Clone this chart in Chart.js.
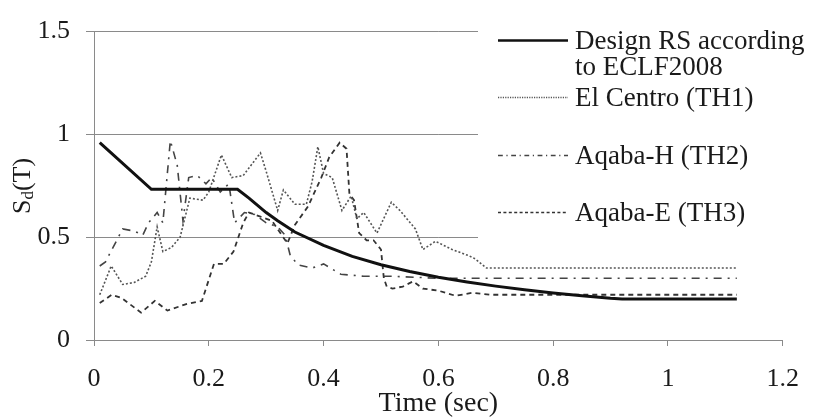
<!DOCTYPE html>
<html>
<head>
<meta charset="utf-8">
<script src="https://cdn.jsdelivr.net/npm/chart.js@4.4.1/dist/chart.umd.min.js"></script>
<style>
  html, body { margin: 0; padding: 0; background: #fff; }
  #wrap { width: 817px; height: 418px; position: relative; }
</style>
</head>
<body>
<div id="wrap"><canvas id="chart" width="817" height="418"></canvas></div>
<script>
// period T (sec) and Sd values
const designT  = [0.01, 0.10, 0.25, 0.27, 0.30, 0.32, 0.35, 0.40, 0.45, 0.50, 0.55, 0.60, 0.65, 0.70, 0.75, 0.80, 0.85, 0.90, 0.92, 1.12];
const designSd = [0.96, 0.733, 0.733, 0.69, 0.62, 0.58, 0.525, 0.46, 0.407, 0.366, 0.333, 0.305, 0.282, 0.262, 0.244, 0.229, 0.215, 0.203, 0.20, 0.20];

const th1T  = [0.01, 0.03, 0.05, 0.07, 0.09, 0.10, 0.11, 0.12, 0.135, 0.15, 0.167, 0.19, 0.20, 0.222, 0.24, 0.26, 0.29, 0.30, 0.32, 0.33, 0.35, 0.37, 0.38, 0.39, 0.40, 0.415, 0.432, 0.448, 0.458, 0.47, 0.493, 0.518, 0.533, 0.56, 0.573, 0.595, 0.624, 0.653, 0.664, 0.684, 1.12];
const th1Sd = [0.22, 0.36, 0.27, 0.28, 0.31, 0.38, 0.55, 0.43, 0.45, 0.50, 0.69, 0.68, 0.72, 0.90, 0.79, 0.80, 0.91, 0.82, 0.63, 0.73, 0.66, 0.66, 0.77, 0.94, 0.81, 0.79, 0.63, 0.70, 0.59, 0.62, 0.52, 0.67, 0.63, 0.54, 0.44, 0.48, 0.44, 0.41, 0.395, 0.35, 0.35];

const th2T  = [0.01, 0.02, 0.05, 0.07, 0.085, 0.095, 0.11, 0.12, 0.133, 0.145, 0.155, 0.165, 0.18, 0.195, 0.205, 0.22, 0.235, 0.245, 0.262, 0.28, 0.30, 0.32, 0.333, 0.342, 0.356, 0.38, 0.40, 0.43, 0.47, 0.52, 0.60, 0.70, 1.12];
const th2Sd = [0.36, 0.38, 0.54, 0.53, 0.51, 0.57, 0.62, 0.57, 0.97, 0.85, 0.58, 0.79, 0.80, 0.76, 0.79, 0.72, 0.76, 0.57, 0.62, 0.61, 0.57, 0.55, 0.51, 0.41, 0.365, 0.35, 0.37, 0.32, 0.31, 0.31, 0.30, 0.30, 0.30];

const th3T  = [0.01, 0.031, 0.048, 0.082, 0.106, 0.128, 0.162, 0.188, 0.209, 0.226, 0.243, 0.26, 0.27, 0.29, 0.31, 0.337, 0.35, 0.373, 0.396, 0.41, 0.428, 0.44, 0.445, 0.453, 0.462, 0.475, 0.487, 0.50, 0.505, 0.51, 0.52, 0.538, 0.556, 0.573, 0.60, 0.63, 0.66, 0.69, 1.12];
const th3Sd = [0.18, 0.22, 0.205, 0.133, 0.19, 0.143, 0.176, 0.19, 0.37, 0.37, 0.43, 0.57, 0.62, 0.60, 0.58, 0.47, 0.56, 0.65, 0.79, 0.89, 0.96, 0.93, 0.71, 0.68, 0.52, 0.485, 0.485, 0.44, 0.30, 0.26, 0.25, 0.26, 0.285, 0.25, 0.24, 0.215, 0.23, 0.22, 0.22];

const seriesNames = ['Design RS according|to ECLF2008', 'El Centro (TH1)', 'Aqaba-H (TH2)', 'Aqaba-E (TH3)'];

const serif = '"Liberation Serif", "Times New Roman", serif';
const textColor = '#1a1a1a';
const gridColor = '#8a8a8a';

function toPoints(ts, vs) {
    return ts.map((t, i) => ({ x: t, y: vs[i] }));
}

// white box with the legend, drawn over the right part of the plot
const boxLegend = {
    id: 'boxLegend',
    afterDraw(chart) {
        const ctx = chart.ctx;
        ctx.save();
        ctx.fillStyle = '#fff';
        ctx.fillRect(478, 0, 339, 258);
        const rows = [40, 97, 155, 212];
        chart.data.datasets.forEach((ds, i) => {
            const y = rows[i];
            ctx.beginPath();
            ctx.strokeStyle = ds.borderColor;
            ctx.lineWidth = i === 0 ? 2.6 : 1.3;
            ctx.setLineDash(i === 0 ? [] : (ds.borderDash || []).map(d => d * 0.6));
            ctx.moveTo(498, y + 0.5);
            ctx.lineTo(568, y + 0.5);
            ctx.stroke();
            ctx.setLineDash([]);
            ctx.fillStyle = textColor;
            ctx.font = '27px ' + serif;
            ctx.textBaseline = 'middle';
            ctx.textAlign = 'left';
            const parts = seriesNames[i].split('|');
            parts.forEach((p, k) => ctx.fillText(p, 575, y + 2 + k * 26));
        });
        ctx.restore();
    }
};

// rotated y title with subscript d
const yTitle = {
    id: 'yTitle',
    afterDraw(chart) {
        const ctx = chart.ctx;
        ctx.save();
        ctx.translate(23, 186);
        ctx.rotate(-Math.PI / 2);
        ctx.fillStyle = textColor;
        ctx.textBaseline = 'middle';
        const big = '26px ' + serif, small = '17px ' + serif;
        ctx.font = big; const wS = ctx.measureText('S').width; const wT = ctx.measureText('(T)').width;
        ctx.font = small; const wd = ctx.measureText('d').width;
        let x = -(wS + wd + wT) / 2;
        ctx.font = big; ctx.fillText('S', x, 0); x += wS;
        ctx.font = small; ctx.fillText('d', x, 6); x += wd;
        ctx.font = big; ctx.fillText('(T)', x, 0);
        ctx.restore();
    }
};

new Chart(document.getElementById('chart'), {
    type: 'line',
    data: {
        datasets: [
            { label: 'Design RS according to ECLF2008', data: toPoints(designT, designSd), borderColor: '#111', borderWidth: 3, pointRadius: 0, tension: 0 },
            { label: 'El Centro (TH1)', data: toPoints(th1T, th1Sd), borderColor: '#555', borderWidth: 1.6, borderDash: [2, 2], pointRadius: 0, tension: 0 },
            { label: 'Aqaba-H (TH2)', data: toPoints(th2T, th2Sd), borderColor: '#444', borderWidth: 1.6, borderDash: [8, 6, 2, 6], pointRadius: 0, tension: 0 },
            { label: 'Aqaba-E (TH3)', data: toPoints(th3T, th3Sd), borderColor: '#333', borderWidth: 1.8, borderDash: [5, 4], pointRadius: 0, tension: 0 }
        ]
    },
    options: {
        responsive: false,
        devicePixelRatio: 1,
        animation: false,
        layout: { padding: { top: 25, right: 20, left: 0, bottom: 0 } },
        plugins: { legend: { display: false }, tooltip: { enabled: false } },
        scales: {
            x: {
                type: 'linear',
                min: 0,
                max: 1.2,
                afterFit: s => { s.height = 78; },
                ticks: {
                    stepSize: 0.2,
                    maxRotation: 0,
                    padding: 18,
                    color: textColor,
                    font: { family: serif, size: 26 },
                    callback: v => String(Math.round(v * 10) / 10)
                },
                grid: { drawOnChartArea: false, drawTicks: true, tickLength: 6, color: gridColor },
                border: { color: gridColor, width: 1 },
                title: {
                    display: true,
                    text: 'Time (sec)',
                    color: textColor,
                    font: { family: serif, size: 28, lineHeight: 1.0 },
                    padding: { top: 0, bottom: 0 }
                }
            },
            y: {
                min: 0,
                max: 1.5,
                afterFit: s => { s.width = 94; },
                ticks: {
                    stepSize: 0.5,
                    padding: 16,
                    color: textColor,
                    font: { family: serif, size: 26 },
                    callback: v => String(Math.round(v * 10) / 10)
                },
                grid: { color: gridColor, tickLength: 8, lineWidth: 1 },
                border: { color: gridColor, width: 1 }
            }
        }
    },
    plugins: [boxLegend, yTitle]
});
</script>
</body>
</html>
